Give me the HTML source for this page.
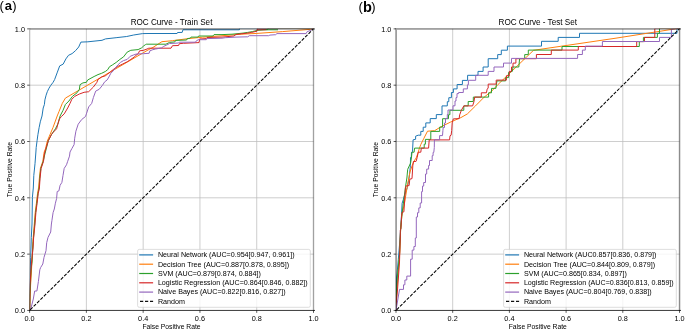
<!DOCTYPE html>
<html><head><meta charset="utf-8"><title>ROC Curves</title>
<style>
html,body{margin:0;padding:0;background:#fff;width:685px;height:329px;overflow:hidden}
svg{display:block;will-change:transform}
text{font-family:"Liberation Sans",sans-serif;fill:#000}
.tk{font-size:7.3px}
.al{font-size:6.75px}
.tt{font-size:8.15px}
.lg{font-size:7.15px}
.pl{font-size:13px;font-weight:bold}
.pp{font-size:13px}
.g{stroke:#bdbdbd;stroke-width:0.75}
</style></head><body>
<svg width="685" height="329" viewBox="0 0 685 329">
<rect width="685" height="329" fill="#fff"/>
<text x="-0.6" y="9.6" class="pp">(</text><text x="4.8" y="10.2" class="pl">a</text><text x="12.3" y="9.6" class="pp">)</text>
<text x="358.4" y="10.8" class="pp">(</text><text x="363.0" y="11.9" class="pl" style="font-size:14.5px">b</text><text x="371.3" y="10.8" class="pp">)</text>
<line x1="86.38" y1="28.86" x2="86.38" y2="310.45" class="g"/>
<line x1="29.60" y1="254.13" x2="313.50" y2="254.13" class="g"/>
<line x1="143.16" y1="28.86" x2="143.16" y2="310.45" class="g"/>
<line x1="29.60" y1="197.81" x2="313.50" y2="197.81" class="g"/>
<line x1="199.94" y1="28.86" x2="199.94" y2="310.45" class="g"/>
<line x1="29.60" y1="141.50" x2="313.50" y2="141.50" class="g"/>
<line x1="256.72" y1="28.86" x2="256.72" y2="310.45" class="g"/>
<line x1="29.60" y1="85.18" x2="313.50" y2="85.18" class="g"/>
<clipPath id="cl"><rect x="29.60" y="28.86" width="283.90" height="281.59"/></clipPath>
<g clip-path="url(#cl)">
<polyline points="29.7,310.4 29.9,290.0 30.3,268.0 30.7,257.4 31.3,237.4 32.0,224.0 32.4,197.3 33.3,188.0 33.8,175.4 35.0,163.7 35.9,152.0 36.2,147.5 37.1,140.5 37.9,134.7 39.1,127.7 40.3,121.8 42.0,116.0 43.2,108.0 44.4,104.5 44.9,99.9 46.1,95.2 47.3,91.7 49.0,88.2 50.8,85.3 53.1,82.3 54.6,79.6 57.1,72.9 59.7,65.9 63.2,64.1 65.9,58.9 68.5,55.3 72.1,53.6 75.6,50.6 78.7,47.0 80.9,42.1 87.9,41.8 102.0,40.3 105.5,38.9 116.1,37.7 126.7,36.5 133.7,35.0 142.5,33.6 148.0,33.5 177.1,33.5 177.5,32.5 182.2,32.4 182.9,29.8 239.4,29.8 239.4,28.2 313.5,28.2" fill="none" stroke="#1f77b4" stroke-width="1.0" stroke-linejoin="miter"/>
<polyline points="29.7,310.4 30.0,300.0 30.6,285.0 31.6,268.0 32.3,254.7 32.9,241.4 34.3,224.0 35.2,212.5 36.4,203.2 37.5,193.8 38.7,187.0 39.3,178.9 40.4,168.4 42.8,161.3 44.2,152.0 45.5,148.7 47.3,141.1 49.0,137.0 53.0,127.5 57.2,116.0 59.0,111.5 62.3,103.4 65.4,98.1 148.0,50.0 153.0,47.4 161.9,41.7 172.4,40.7 188.3,38.6 202.4,37.2 220.0,35.9 241.2,34.2 257.0,33.4 282.7,31.6 310.7,29.3 313.5,28.2" fill="none" stroke="#ff7f0e" stroke-width="1.0" stroke-linejoin="miter"/>
<polyline points="29.6,310.4 29.8,295.0 30.4,285.0 31.0,270.0 32.0,262.0 32.7,250.0 33.3,240.0 34.7,224.0 35.6,212.5 36.8,203.2 37.9,193.8 39.1,188.0 39.7,178.9 40.8,168.4 43.2,161.3 44.9,154.0 48.4,140.5 51.4,134.7 55.4,128.8 57.8,124.2 60.1,116.0 63.0,110.4 65.4,104.5 68.9,101.0 72.4,96.4 77.0,92.8 79.4,89.3 80.0,84.7 82.9,82.9 86.4,82.3 87.6,80.0 94.1,76.5 98.0,74.6 101.6,73.3 105.3,71.5 107.7,69.7 109.5,66.7 112.6,64.8 116.2,62.4 119.9,59.4 123.5,56.9 127.2,52.1 130.8,50.3 138.1,49.6 141.7,47.8 143.6,46.0 145.5,44.6 146.2,44.2 165.9,44.2 169.6,42.4 172.0,42.2 174.9,41.9 175.6,40.4 186.6,40.0 187.3,38.6 190.2,38.2 191.0,37.1 197.9,37.1 198.6,36.0 212.9,36.0 214.0,34.6 222.0,34.6 232.0,34.2 243.0,33.1 247.7,32.4 252.4,31.6 257.0,30.4 267.5,29.6 268.0,28.2 313.5,28.2" fill="none" stroke="#2ca02c" stroke-width="1.0" stroke-linejoin="miter"/>
<polyline points="29.6,310.4 30.0,285.0 30.7,275.0 31.3,265.0 32.3,255.0 33.0,248.0 33.6,238.0 35.0,224.0 35.9,212.5 37.1,203.2 38.2,193.8 39.4,188.0 40.0,178.9 41.1,168.4 43.5,161.3 44.4,154.0 45.5,149.9 48.4,140.5 51.4,134.7 53.1,132.4 56.6,128.8 57.8,124.2 59.5,118.9 61.4,116.5 64.2,113.9 67.7,108.0 70.0,103.4 71.8,99.3 74.7,96.4 79.4,94.0 84.1,92.3 88.7,91.7 93.4,87.0 96.9,82.3 98.0,79.5 101.6,77.0 105.3,75.8 107.7,74.0 110.2,72.1 113.8,69.1 117.4,66.7 122.3,64.2 127.2,61.8 130.8,59.4 134.5,56.9 136.0,55.2 138.2,53.7 139.6,50.8 143.3,50.4 147.0,49.0 148.8,48.2 171.0,48.2 172.5,45.7 178.6,45.5 179.3,43.7 183.3,43.3 199.0,42.6 199.7,39.0 206.3,38.6 207.0,37.5 222.0,37.1 234.0,36.0 236.0,34.4 247.7,33.1 251.7,32.4 257.0,31.2 257.6,28.2 313.5,28.2" fill="none" stroke="#d62728" stroke-width="1.0" stroke-linejoin="miter"/>
<polyline points="29.6,310.4 31.1,307.7 33.3,299.0 34.7,291.0 36.9,291.0 38.4,281.5 39.8,269.8 40.6,267.6 42.8,264.0 44.0,257.4 46.0,250.7 46.7,242.7 48.0,237.4 50.7,232.0 51.4,224.0 51.9,220.7 53.1,212.5 54.3,209.0 55.4,203.2 56.6,198.5 57.2,191.5 58.9,190.9 59.5,188.0 60.1,185.3 61.9,182.4 63.0,175.4 64.2,168.4 66.5,164.8 67.7,161.3 69.5,156.1 70.0,152.0 71.8,148.7 74.1,144.6 74.7,138.2 75.9,131.2 78.2,124.2 81.7,119.5 85.5,116.5 86.4,113.9 88.7,106.9 91.7,103.4 93.4,97.5 95.7,91.1 99.2,89.3 102.3,85.5 104.7,81.8 107.1,80.0 108.9,77.0 110.8,73.3 113.2,70.9 115.0,68.5 118.0,64.8 120.5,62.4 123.5,60.6 127.2,59.4 130.2,56.3 133.2,55.1 136.0,54.1 143.3,53.7 149.1,53.3 149.9,50.8 152.8,49.7 155.7,49.0 161.5,47.9 163.7,46.4 166.7,45.0 169.6,43.5 172.0,43.4 178.6,43.0 179.3,42.2 195.4,42.2 196.1,41.1 198.3,39.7 206.3,39.7 207.0,38.6 222.0,38.2 225.3,37.7 236.0,37.1 247.7,36.8 249.4,35.7 268.7,35.7 269.9,35.1 275.7,34.7 276.9,33.6 306.1,33.6 307.2,31.6 310.7,30.4 313.5,28.2" fill="none" stroke="#9467bd" stroke-width="1.0" stroke-linejoin="miter"/>
<polyline points="257.6,29.8 266.4,29.8" fill="none" stroke="#d62728" stroke-width="1.0"/>
<polyline points="266.4,29.8 278.0,29.8" fill="none" stroke="#2ca02c" stroke-width="1.0"/>
<line x1="29.60" y1="310.45" x2="313.50" y2="28.86" stroke="#000" stroke-width="1.05" stroke-dasharray="3.35 1.43" stroke-dashoffset="-0.9"/>
</g>
<rect x="29" y="28" width="1" height="283" fill="#000" fill-opacity="0.25"/>
<rect x="30" y="28" width="1" height="283" fill="#000" fill-opacity="0.07"/>
<rect x="312" y="28" width="1" height="283" fill="#000" fill-opacity="0.06"/>
<rect x="313" y="28" width="1" height="283" fill="#000" fill-opacity="0.37"/>
<rect x="314" y="28" width="1" height="283" fill="#000" fill-opacity="0.06"/>
<rect x="30" y="28" width="285" height="1" fill="#000" fill-opacity="0.37"/>
<rect x="30" y="29" width="285" height="1" fill="#000" fill-opacity="0.31"/>
<rect x="29" y="310" width="286" height="1" fill="#000" fill-opacity="0.72"/>
<rect x="29" y="309" width="286" height="1" fill="#000" fill-opacity="0.06"/>
<line x1="29.60" y1="310.45" x2="29.60" y2="312.85" stroke="#000" stroke-width="0.65"/>
<line x1="27.20" y1="310.45" x2="29.60" y2="310.45" stroke="#000" stroke-width="0.65"/>
<text x="29.60" y="320.65" class="tk" text-anchor="middle">0.0</text>
<text x="25.00" y="313.15" class="tk" text-anchor="end">0.0</text>
<line x1="86.38" y1="310.45" x2="86.38" y2="312.85" stroke="#000" stroke-width="0.65"/>
<line x1="27.20" y1="254.13" x2="29.60" y2="254.13" stroke="#000" stroke-width="0.65"/>
<text x="86.38" y="320.65" class="tk" text-anchor="middle">0.2</text>
<text x="25.00" y="256.83" class="tk" text-anchor="end">0.2</text>
<line x1="143.16" y1="310.45" x2="143.16" y2="312.85" stroke="#000" stroke-width="0.65"/>
<line x1="27.20" y1="197.81" x2="29.60" y2="197.81" stroke="#000" stroke-width="0.65"/>
<text x="143.16" y="320.65" class="tk" text-anchor="middle">0.4</text>
<text x="25.00" y="200.51" class="tk" text-anchor="end">0.4</text>
<line x1="199.94" y1="310.45" x2="199.94" y2="312.85" stroke="#000" stroke-width="0.65"/>
<line x1="27.20" y1="141.50" x2="29.60" y2="141.50" stroke="#000" stroke-width="0.65"/>
<text x="199.94" y="320.65" class="tk" text-anchor="middle">0.6</text>
<text x="25.00" y="144.20" class="tk" text-anchor="end">0.6</text>
<line x1="256.72" y1="310.45" x2="256.72" y2="312.85" stroke="#000" stroke-width="0.65"/>
<line x1="27.20" y1="85.18" x2="29.60" y2="85.18" stroke="#000" stroke-width="0.65"/>
<text x="256.72" y="320.65" class="tk" text-anchor="middle">0.8</text>
<text x="25.00" y="87.88" class="tk" text-anchor="end">0.8</text>
<line x1="313.50" y1="310.45" x2="313.50" y2="312.85" stroke="#000" stroke-width="0.65"/>
<line x1="27.20" y1="28.86" x2="29.60" y2="28.86" stroke="#000" stroke-width="0.65"/>
<text x="313.50" y="320.65" class="tk" text-anchor="middle">1.0</text>
<text x="25.00" y="31.56" class="tk" text-anchor="end">1.0</text>
<text x="171.55" y="25.2" class="tt" text-anchor="middle">ROC Curve - Train Set</text>
<text x="171.55" y="328.5" class="al" text-anchor="middle">False Positive Rate</text>
<text x="0" y="0" class="al" text-anchor="middle" transform="translate(11.50,169.66) rotate(-90)">True Positive Rate</text>
<rect x="137.60" y="249.40" width="172.70" height="57.90" rx="1.6" fill="#fff" fill-opacity="0.8" stroke="#ccc" stroke-width="0.65"/>
<line x1="139.20" y1="254.90" x2="153.10" y2="254.90" stroke="#1f77b4" stroke-width="1.2"/>
<text x="157.90" y="257.20" class="lg">Neural Network (AUC=0.954[0.947, 0.961])</text>
<line x1="139.20" y1="264.20" x2="153.10" y2="264.20" stroke="#ff7f0e" stroke-width="1.2"/>
<text x="157.90" y="266.50" class="lg">Decision Tree (AUC=0.887[0.878, 0.895])</text>
<line x1="139.20" y1="273.50" x2="153.10" y2="273.50" stroke="#2ca02c" stroke-width="1.2"/>
<text x="157.90" y="275.80" class="lg">SVM (AUC=0.879[0.874, 0.884])</text>
<line x1="139.20" y1="282.80" x2="153.10" y2="282.80" stroke="#d62728" stroke-width="1.2"/>
<text x="157.90" y="285.10" class="lg">Logistic Regression (AUC=0.864[0.846, 0.882])</text>
<line x1="139.20" y1="292.10" x2="153.10" y2="292.10" stroke="#9467bd" stroke-width="1.2"/>
<text x="157.90" y="294.40" class="lg">Naive Bayes (AUC=0.822[0.816, 0.827])</text>
<line x1="140.00" y1="301.40" x2="153.10" y2="301.40" stroke="#111" stroke-width="1.15" stroke-dasharray="3.2 1.8"/>
<text x="157.90" y="303.70" class="lg">Random</text>
<line x1="452.70" y1="28.86" x2="452.70" y2="310.45" class="g"/>
<line x1="396.00" y1="254.13" x2="679.50" y2="254.13" class="g"/>
<line x1="509.40" y1="28.86" x2="509.40" y2="310.45" class="g"/>
<line x1="396.00" y1="197.81" x2="679.50" y2="197.81" class="g"/>
<line x1="566.10" y1="28.86" x2="566.10" y2="310.45" class="g"/>
<line x1="396.00" y1="141.50" x2="679.50" y2="141.50" class="g"/>
<line x1="622.80" y1="28.86" x2="622.80" y2="310.45" class="g"/>
<line x1="396.00" y1="85.18" x2="679.50" y2="85.18" class="g"/>
<clipPath id="cr"><rect x="396.00" y="28.86" width="283.50" height="281.59"/></clipPath>
<g clip-path="url(#cr)">
<polyline points="396.0,310.4 396.3,290.0 396.6,277.0 397.0,274.0 398.3,259.5 399.5,245.0 401.5,215.5 402.1,203.3 403.3,199.6 404.3,196.0 405.5,192.6 407.3,187.7 409.1,178.0 410.4,165.8 410.5,157.4 411.3,156.9 411.5,152.2 412.5,151.7 413.1,139.8 415.6,139.3 415.6,136.2 418.2,135.2 420.8,135.2 420.8,131.4 423.2,131.4 423.2,127.2 425.8,127.2 425.8,122.9 430.2,122.9 430.2,118.6 436.3,118.6 436.3,114.6 442.0,114.6 442.0,105.9 447.3,105.9 447.3,101.7 448.8,101.7 448.8,97.7 451.4,97.7 451.4,92.5 453.4,92.5 453.4,88.9 457.1,88.9 457.1,84.5 462.4,84.5 462.4,80.4 467.6,80.4 467.6,75.3 478.0,75.3 478.0,71.4 483.1,71.4 483.1,67.0 488.2,67.0 488.2,58.7 497.7,58.7 497.7,54.6 501.3,54.6 501.3,50.2 507.4,50.2 507.4,46.1 541.5,46.1 541.5,41.3 558.2,41.3 558.2,37.4 579.5,37.4 579.5,33.3 677.0,33.3 677.0,28.2 679.6,28.2" fill="none" stroke="#1f77b4" stroke-width="1.0" stroke-linejoin="miter"/>
<polyline points="396.2,310.4 397.0,290.0 398.0,275.0 399.0,262.0 399.8,252.0 400.6,229.9 402.0,213.8 404.2,205.0 406.0,194.0 408.0,182.0 410.0,172.0 412.0,166.0 414.1,161.0 416.2,157.9 417.7,153.8 419.3,148.6 420.8,144.5 423.9,138.3 427.5,131.2 434.6,130.7 440.4,127.1 450.7,122.0 460.9,117.6 467.4,113.9 475.5,105.9 484.2,97.1 491.5,91.3 498.1,84.4 533.5,50.3 615.0,38.3 679.6,28.2" fill="none" stroke="#ff7f0e" stroke-width="1.0" stroke-linejoin="miter"/>
<polyline points="396.2,310.4 396.5,290.0 397.5,275.0 398.5,265.0 399.5,255.0 400.6,230.0 402.0,214.0 404.0,198.4 405.5,186.8 406.9,178.0 407.7,169.3 410.6,163.0 411.4,158.0 412.0,152.2 414.1,152.2 414.6,148.1 424.2,148.1 424.2,144.2 425.4,144.2 425.4,139.4 430.8,139.4 430.8,131.4 439.7,131.4 439.7,127.1 442.6,127.1 442.6,118.7 448.5,118.7 448.5,114.7 449.9,114.7 449.9,110.3 463.8,110.3 463.8,105.9 468.2,105.9 468.2,101.5 473.3,101.5 473.3,97.1 488.6,97.1 488.6,92.8 491.5,92.8 491.5,88.4 495.9,88.4 496.9,80.9 505.6,80.9 505.6,77.6 508.6,77.6 508.6,72.4 512.3,71.4 513.0,67.0 518.8,67.0 519.6,58.7 524.7,58.7 524.7,54.6 528.3,54.6 528.3,50.1 562.0,50.1 562.0,46.5 639.3,46.5 639.3,41.6 643.4,41.6 643.4,37.4 657.4,37.4 657.4,33.3 659.5,33.3 659.5,28.2 679.6,28.2" fill="none" stroke="#2ca02c" stroke-width="1.0" stroke-linejoin="miter"/>
<polyline points="396.0,310.4 396.4,300.0 397.5,290.0 398.6,275.0 399.5,262.0 400.3,236.0 400.3,230.0 400.9,228.8 401.5,216.7 402.1,212.4 403.9,211.8 404.9,196.0 405.5,187.7 406.1,185.9 409.1,185.6 409.8,179.2 412.0,178.6 412.8,165.8 413.4,161.5 415.9,161.5 416.2,161.0 417.2,157.4 418.2,152.2 420.8,152.2 421.3,148.1 428.6,148.1 429.2,139.9 449.6,139.9 450.0,135.8 451.1,135.2 451.7,130.6 452.2,122.9 453.3,118.9 459.1,118.6 459.7,114.8 461.4,110.2 463.8,105.9 472.6,105.9 474.0,101.5 474.7,97.1 481.3,97.1 481.3,92.8 486.4,92.8 487.2,89.1 488.2,88.0 488.2,84.1 496.2,84.1 496.2,80.1 506.4,80.1 506.4,75.8 509.3,75.8 509.3,71.4 511.5,71.4 511.5,67.0 513.0,67.0 513.0,63.1 515.9,63.1 515.9,58.7 536.4,58.7 536.4,54.5 551.3,54.5 551.3,50.1 578.3,50.1 578.3,46.5 636.7,46.5 636.7,41.6 644.5,41.6 644.5,37.4 654.8,37.4 654.8,28.2 679.6,28.2" fill="none" stroke="#d62728" stroke-width="1.0" stroke-linejoin="miter"/>
<polyline points="396.0,310.4 399.5,289.4 403.5,289.4 403.5,284.8 404.9,284.8 404.9,280.0 406.8,280.0 406.8,276.1 410.6,276.1 410.6,259.2 412.2,259.2 412.2,250.1 413.9,250.1 413.9,246.5 415.3,246.5 415.3,238.0 416.3,238.0 416.3,217.0 417.5,217.0 417.5,212.7 418.8,212.7 418.8,207.9 420.2,207.9 420.2,203.0 421.6,203.0 421.6,191.6 422.5,191.6 422.5,186.1 423.7,186.1 423.7,182.5 425.5,182.5 425.5,174.0 426.7,174.0 426.7,169.1 428.6,169.1 428.6,165.5 429.5,165.5 429.5,160.5 432.2,160.5 432.2,155.7 433.1,155.7 433.1,152.4 433.8,152.4 434.3,147.5 434.4,139.8 439.6,139.8 439.6,135.6 442.5,135.6 442.9,130.6 443.2,127.5 444.5,127.5 444.5,123.0 445.5,123.0 445.5,118.5 447.3,118.5 447.3,114.5 448.0,114.5 448.0,110.0 453.0,110.0 453.0,105.8 455.0,105.8 455.0,101.0 456.0,101.0 456.0,97.6 457.0,97.6 457.0,93.6 458.6,93.6 458.6,92.5 463.3,92.5 463.3,88.9 467.4,88.9 467.4,84.8 468.4,84.8 468.4,80.3 475.7,80.3 475.7,75.3 488.2,75.3 488.2,71.4 494.0,71.4 494.0,67.0 503.5,67.0 503.5,63.1 511.5,63.1 511.5,58.4 577.6,58.4 577.6,54.5 582.4,54.5 582.4,50.1 585.3,50.1 585.3,46.1 602.4,46.1 602.4,41.5 659.5,41.5 659.5,37.4 671.4,37.4 671.4,29.2 679.6,28.2" fill="none" stroke="#9467bd" stroke-width="1.0" stroke-linejoin="miter"/>
<line x1="396.00" y1="310.45" x2="679.50" y2="28.86" stroke="#000" stroke-width="1.05" stroke-dasharray="3.35 1.43" stroke-dashoffset="-0.9"/>
</g>
<rect x="395" y="28" width="1" height="283" fill="#000" fill-opacity="0.3"/>
<rect x="396" y="28" width="1" height="283" fill="#000" fill-opacity="0.38"/>
<rect x="678" y="28" width="1" height="283" fill="#000" fill-opacity="0.08"/>
<rect x="679" y="28" width="1" height="283" fill="#000" fill-opacity="0.45"/>
<rect x="680" y="28" width="1" height="283" fill="#000" fill-opacity="0.12"/>
<rect x="397" y="28" width="284" height="1" fill="#000" fill-opacity="0.37"/>
<rect x="397" y="29" width="284" height="1" fill="#000" fill-opacity="0.31"/>
<rect x="395" y="310" width="286" height="1" fill="#000" fill-opacity="0.72"/>
<rect x="395" y="309" width="286" height="1" fill="#000" fill-opacity="0.06"/>
<line x1="396.00" y1="310.45" x2="396.00" y2="312.85" stroke="#000" stroke-width="0.65"/>
<line x1="393.60" y1="310.45" x2="396.00" y2="310.45" stroke="#000" stroke-width="0.65"/>
<text x="396.00" y="320.65" class="tk" text-anchor="middle">0.0</text>
<text x="391.40" y="313.15" class="tk" text-anchor="end">0.0</text>
<line x1="452.70" y1="310.45" x2="452.70" y2="312.85" stroke="#000" stroke-width="0.65"/>
<line x1="393.60" y1="254.13" x2="396.00" y2="254.13" stroke="#000" stroke-width="0.65"/>
<text x="452.70" y="320.65" class="tk" text-anchor="middle">0.2</text>
<text x="391.40" y="256.83" class="tk" text-anchor="end">0.2</text>
<line x1="509.40" y1="310.45" x2="509.40" y2="312.85" stroke="#000" stroke-width="0.65"/>
<line x1="393.60" y1="197.81" x2="396.00" y2="197.81" stroke="#000" stroke-width="0.65"/>
<text x="509.40" y="320.65" class="tk" text-anchor="middle">0.4</text>
<text x="391.40" y="200.51" class="tk" text-anchor="end">0.4</text>
<line x1="566.10" y1="310.45" x2="566.10" y2="312.85" stroke="#000" stroke-width="0.65"/>
<line x1="393.60" y1="141.50" x2="396.00" y2="141.50" stroke="#000" stroke-width="0.65"/>
<text x="566.10" y="320.65" class="tk" text-anchor="middle">0.6</text>
<text x="391.40" y="144.20" class="tk" text-anchor="end">0.6</text>
<line x1="622.80" y1="310.45" x2="622.80" y2="312.85" stroke="#000" stroke-width="0.65"/>
<line x1="393.60" y1="85.18" x2="396.00" y2="85.18" stroke="#000" stroke-width="0.65"/>
<text x="622.80" y="320.65" class="tk" text-anchor="middle">0.8</text>
<text x="391.40" y="87.88" class="tk" text-anchor="end">0.8</text>
<line x1="679.50" y1="310.45" x2="679.50" y2="312.85" stroke="#000" stroke-width="0.65"/>
<line x1="393.60" y1="28.86" x2="396.00" y2="28.86" stroke="#000" stroke-width="0.65"/>
<text x="679.50" y="320.65" class="tk" text-anchor="middle">1.0</text>
<text x="391.40" y="31.56" class="tk" text-anchor="end">1.0</text>
<text x="537.75" y="25.2" class="tt" text-anchor="middle">ROC Curve - Test Set</text>
<text x="537.75" y="328.5" class="al" text-anchor="middle">False Positive Rate</text>
<text x="0" y="0" class="al" text-anchor="middle" transform="translate(377.90,169.66) rotate(-90)">True Positive Rate</text>
<rect x="503.60" y="249.40" width="172.70" height="57.90" rx="1.6" fill="#fff" fill-opacity="0.8" stroke="#ccc" stroke-width="0.65"/>
<line x1="505.20" y1="254.90" x2="519.10" y2="254.90" stroke="#1f77b4" stroke-width="1.2"/>
<text x="523.90" y="257.20" class="lg">Neural Network (AUC0.857[0.836, 0.879])</text>
<line x1="505.20" y1="264.20" x2="519.10" y2="264.20" stroke="#ff7f0e" stroke-width="1.2"/>
<text x="523.90" y="266.50" class="lg">Decision Tree (AUC=0.844[0.809, 0.879])</text>
<line x1="505.20" y1="273.50" x2="519.10" y2="273.50" stroke="#2ca02c" stroke-width="1.2"/>
<text x="523.90" y="275.80" class="lg">SVM (AUC=0.865[0.834, 0.897])</text>
<line x1="505.20" y1="282.80" x2="519.10" y2="282.80" stroke="#d62728" stroke-width="1.2"/>
<text x="523.90" y="285.10" class="lg">Logistic Regression (AUC=0.836[0.813, 0.859])</text>
<line x1="505.20" y1="292.10" x2="519.10" y2="292.10" stroke="#9467bd" stroke-width="1.2"/>
<text x="523.90" y="294.40" class="lg">Naive Bayes (AUC=0.804[0.769, 0.838])</text>
<line x1="506.00" y1="301.40" x2="519.10" y2="301.40" stroke="#111" stroke-width="1.15" stroke-dasharray="3.2 1.8"/>
<text x="523.90" y="303.70" class="lg">Random</text>
</svg>
</body></html>
